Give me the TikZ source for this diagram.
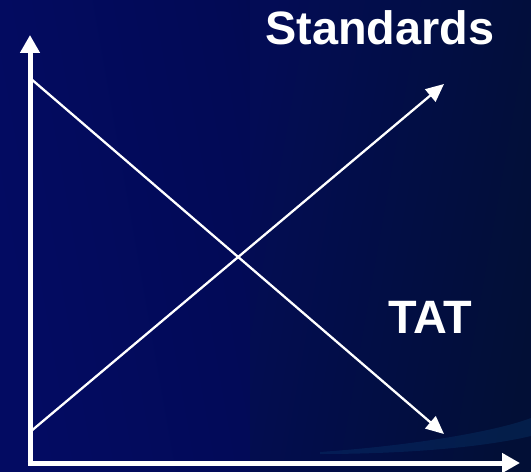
\documentclass[tikz,border=0pt]{standalone}
\usepackage{fontspec}
\setmainfont{Liberation Sans}
\usetikzlibrary{arrows.meta}
\definecolor{bgleft}{HTML}{030B62}
\definecolor{bgmid}{HTML}{020A55}
\definecolor{bgright}{HTML}{020F36}
\definecolor{bgstreak}{HTML}{0A3A70}

\begin{document}
\begin{tikzpicture}[x=1bp,y=-1bp,every node/.style={font=\fontsize{47}{50}\selectfont\bfseries,text=white,inner sep=0pt}]
\useasboundingbox (0,0) rectangle (531,472);
\shade[left color=bgleft,right color=bgright,middle color=bgmid,shading angle=100] (0,0) rectangle (531,472);
\shade[left color=bgleft!70!bgright,right color=bgright,shading angle=80] (250,0) rectangle (531,472);
\fill[bgstreak,opacity=0.35] (320,452) .. controls (420,445) and (500,430) .. (531,418) -- (531,436) .. controls (480,448) and (400,454) .. (320,454) -- cycle;
\coordinate (O) at (30,463);
\coordinate (ytip) at (30,35);
\coordinate (xtip) at (520,463);
\coordinate (tatstart) at (30,78);
\coordinate (tatend) at (444,434);
\coordinate (stdstart) at (30,432);
\coordinate (stdend) at (444,84);
\draw[white,line width=5bp,-{Triangle[length=18bp,width=19bp]}] (30,465.5) -- (ytip);
\draw[white,line width=5bp,-{Triangle[length=18bp,width=19bp]}] (27.5,463) -- (xtip);
\draw[white,line width=2.3bp,-{Triangle[length=18bp,width=16bp]}] (tatstart) -- (tatend);
\draw[white,line width=2.3bp,-{Triangle[length=18bp,width=16bp]}] (stdstart) -- (stdend);
\node[anchor=base west] (standards) at (265,45) {Standards};
\node[anchor=base west] (tat) at (388,333) {TAT};
\end{tikzpicture}
\end{document}
